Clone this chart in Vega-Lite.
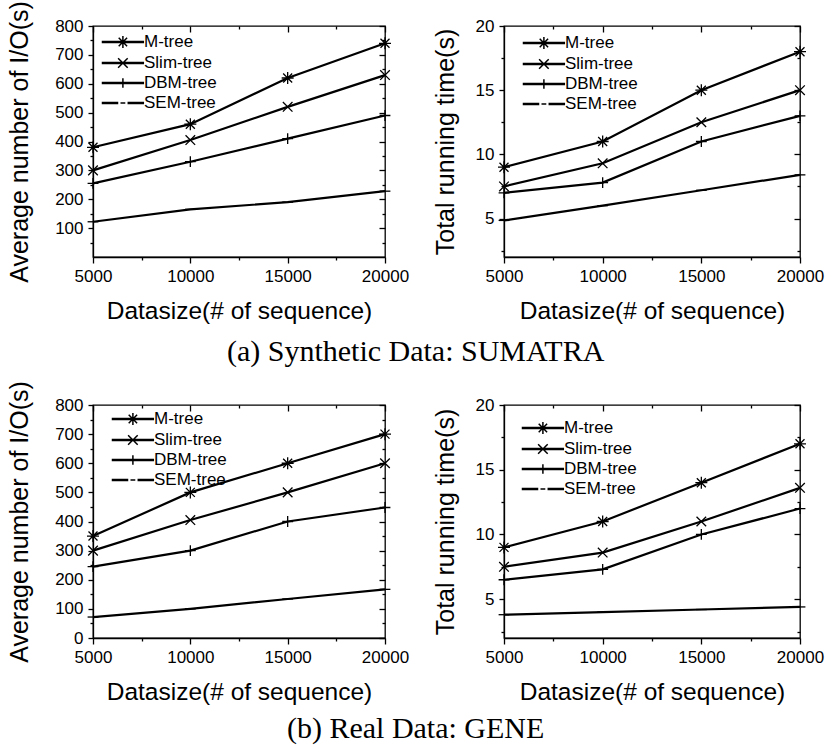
{
  "$schema": "https://vega.github.io/schema/vega-lite/v6.json",
  "background": "white",
  "padding": {"left": 6, "top": 0, "right": 0, "bottom": 0},
  "datasets": {
    "a_io": [
      {"series": "M-tree", "size": 5000, "value": 380}, {"series": "M-tree", "size": 10000, "value": 460}, {"series": "M-tree", "size": 15000, "value": 620}, {"series": "M-tree", "size": 20000, "value": 740},
      {"series": "Slim-tree", "size": 5000, "value": 300}, {"series": "Slim-tree", "size": 10000, "value": 405}, {"series": "Slim-tree", "size": 15000, "value": 520}, {"series": "Slim-tree", "size": 20000, "value": 630},
      {"series": "DBM-tree", "size": 5000, "value": 255}, {"series": "DBM-tree", "size": 10000, "value": 330}, {"series": "DBM-tree", "size": 15000, "value": 410}, {"series": "DBM-tree", "size": 20000, "value": 490},
      {"series": "SEM-tree", "size": 5000, "value": 122}, {"series": "SEM-tree", "size": 10000, "value": 165}, {"series": "SEM-tree", "size": 15000, "value": 190}, {"series": "SEM-tree", "size": 20000, "value": 228}
    ],
    "a_time": [
      {"series": "M-tree", "size": 5000, "value": 9}, {"series": "M-tree", "size": 10000, "value": 11}, {"series": "M-tree", "size": 15000, "value": 15}, {"series": "M-tree", "size": 20000, "value": 18},
      {"series": "Slim-tree", "size": 5000, "value": 7.5}, {"series": "Slim-tree", "size": 10000, "value": 9.3}, {"series": "Slim-tree", "size": 15000, "value": 12.5}, {"series": "Slim-tree", "size": 20000, "value": 15},
      {"series": "DBM-tree", "size": 5000, "value": 7}, {"series": "DBM-tree", "size": 10000, "value": 7.8}, {"series": "DBM-tree", "size": 15000, "value": 11}, {"series": "DBM-tree", "size": 20000, "value": 13},
      {"series": "SEM-tree", "size": 5000, "value": 4.85}, {"series": "SEM-tree", "size": 10000, "value": 6}, {"series": "SEM-tree", "size": 15000, "value": 7.2}, {"series": "SEM-tree", "size": 20000, "value": 8.4}
    ],
    "b_io": [
      {"series": "M-tree", "size": 5000, "value": 350}, {"series": "M-tree", "size": 10000, "value": 500}, {"series": "M-tree", "size": 15000, "value": 600}, {"series": "M-tree", "size": 20000, "value": 700},
      {"series": "Slim-tree", "size": 5000, "value": 300}, {"series": "Slim-tree", "size": 10000, "value": 405}, {"series": "Slim-tree", "size": 15000, "value": 500}, {"series": "Slim-tree", "size": 20000, "value": 600},
      {"series": "DBM-tree", "size": 5000, "value": 245}, {"series": "DBM-tree", "size": 10000, "value": 300}, {"series": "DBM-tree", "size": 15000, "value": 400}, {"series": "DBM-tree", "size": 20000, "value": 448},
      {"series": "SEM-tree", "size": 5000, "value": 72}, {"series": "SEM-tree", "size": 10000, "value": 100}, {"series": "SEM-tree", "size": 15000, "value": 134}, {"series": "SEM-tree", "size": 20000, "value": 167}
    ],
    "b_time": [
      {"series": "M-tree", "size": 5000, "value": 9}, {"series": "M-tree", "size": 10000, "value": 11}, {"series": "M-tree", "size": 15000, "value": 14}, {"series": "M-tree", "size": 20000, "value": 17},
      {"series": "Slim-tree", "size": 5000, "value": 7.5}, {"series": "Slim-tree", "size": 10000, "value": 8.6}, {"series": "Slim-tree", "size": 15000, "value": 11}, {"series": "Slim-tree", "size": 20000, "value": 13.6},
      {"series": "DBM-tree", "size": 5000, "value": 6.5}, {"series": "DBM-tree", "size": 10000, "value": 7.3}, {"series": "DBM-tree", "size": 15000, "value": 10}, {"series": "DBM-tree", "size": 20000, "value": 12},
      {"series": "SEM-tree", "size": 5000, "value": 3.8}, {"series": "SEM-tree", "size": 10000, "value": 4.0}, {"series": "SEM-tree", "size": 15000, "value": 4.2}, {"series": "SEM-tree", "size": 20000, "value": 4.4}
    ]
  },
  "config": {
    "font": "Liberation Sans",
    "view": {"stroke": "black", "strokeWidth": 1.3},
    "axis": {"grid": false, "domainColor": "black", "domainWidth": 1.3, "tickColor": "black", "tickWidth": 1.3, "labelColor": "black", "titleColor": "black", "labelFont": "Liberation Sans", "titleFont": "Liberation Sans", "labelFontSize": 17, "titleFontSize": 25, "titleFontWeight": "normal"},
    "legend": {"labelFont": "Liberation Sans", "labelColor": "black", "labelFontSize": 17},
    "title": {"font": "Liberation Serif", "fontSize": 30, "fontWeight": "normal", "color": "black"}
  },
  "spacing": 12,
  "vconcat": [
    {
      "title": {"text": "(a) Synthetic Data: SUMATRA", "orient": "bottom", "anchor": "middle", "offset": 14},
      "spacing": 22,
      "hconcat": [
        {
          "width": 292, "height": 231,
          "data": {"name": "a_io"},
          "layer": [
            {"mark": {"type": "line", "color": "black", "strokeWidth": 2.2},
             "encoding": {
               "x": {"field": "size", "type": "quantitative", "scale": {"domain": [5000, 20000], "nice": false, "zero": false},
                     "axis": {"orient": "bottom", "values": [5000, 10000, 15000, 20000], "format": "d", "title": "Datasize(# of sequence)", "titleFontSize": 24.5, "tickSize": 6, "labelPadding": 5, "titlePadding": 15, "labelFlush": false, "labelOverlap": false}},
               "y": {"field": "value", "type": "quantitative", "scale": {"domain": [0, 800], "nice": false, "zero": false},
                     "axis": {"orient": "left", "values": [100, 200, 300, 400, 500, 600, 700, 800], "title": "Average number of I/O(s)", "tickSize": 5, "labelPadding": 5, "titlePadding": 22, "labelOverlap": false}},
               "detail": {"field": "series"}}},
            {"mark": {"type": "point", "filled": false, "color": "black", "strokeWidth": 1.3, "size": 144, "opacity": 1},
             "encoding": {
               "x": {"field": "size", "type": "quantitative", "scale": {"domain": [5000, 20000], "nice": false, "zero": false},
                     "axis": {"orient": "bottom", "values": [7500, 12500, 17500], "tickSize": 3, "labels": false, "domain": false, "title": null}},
               "y": {"field": "value", "type": "quantitative", "scale": {"domain": [0, 800], "nice": false, "zero": false},
                     "axis": {"orient": "left", "values": [50, 150, 250, 350, 450, 550, 650, 750], "tickSize": 3, "labels": false, "domain": false, "title": null}},
               "shape": {"field": "series", "type": "nominal", "sort": null, "legend": null,
                         "scale": {"domain": ["M-tree", "Slim-tree", "DBM-tree", "SEM-tree"], "range": ["M0,-1V1M-0.75,-0.75L0.75,0.75M-0.75,0.75L0.75,-0.75M-1,0H1", "M-0.8,-0.8L0.8,0.8M-0.8,0.8L0.8,-0.8", "M-0.9,0H0.9M0,-0.9V0.9", "M-0.9,0H0.9"]}}}},
            {"mark": {"type": "point", "opacity": 0},
             "encoding": {
               "x": {"field": "size", "type": "quantitative", "scale": {"domain": [5000, 20000], "nice": false, "zero": false},
                     "axis": {"orient": "top", "values": [5000, 10000, 15000, 20000], "tickSize": -6, "labels": false, "domain": false, "title": null}},
               "y": {"field": "value", "type": "quantitative", "scale": {"domain": [0, 800], "nice": false, "zero": false},
                     "axis": {"orient": "right", "values": [100, 200, 300, 400, 500, 600, 700, 800], "tickSize": -6, "labels": false, "domain": false, "title": null}}}},
            {"mark": {"type": "point", "opacity": 0},
             "encoding": {
               "x": {"field": "size", "type": "quantitative", "scale": {"domain": [5000, 20000], "nice": false, "zero": false},
                     "axis": {"orient": "top", "values": [7500, 12500, 17500], "tickSize": -3, "labels": false, "domain": false, "title": null}},
               "y": {"field": "value", "type": "quantitative", "scale": {"domain": [0, 800], "nice": false, "zero": false},
                     "axis": {"orient": "right", "values": [50, 150, 250, 350, 450, 550, 650, 750], "tickSize": -3, "labels": false, "domain": false, "title": null}}}},
            {"mark": {"type": "point", "opacity": 0, "filled": false, "color": "black", "strokeWidth": 1.5},
             "encoding": {
               "x": {"field": "size", "type": "quantitative", "scale": {"domain": [5000, 20000], "nice": false, "zero": false}, "axis": null},
               "y": {"field": "value", "type": "quantitative", "scale": {"domain": [0, 800], "nice": false, "zero": false}, "axis": null},
               "shape": {"field": "series", "type": "nominal", "sort": null,
                         "scale": {"domain": ["M-tree", "Slim-tree", "DBM-tree", "SEM-tree"], "range": ["M-1,-0.08H5.8V0.08H-1Z M2.4,-1V1 M1.7,-0.7L3.1,0.7 M1.7,0.7L3.1,-0.7", "M-1,-0.08H5.8V0.08H-1Z M1.6,-0.8L3.2,0.8 M1.6,0.8L3.2,-0.8", "M-1,-0.08H5.8V0.08H-1Z M2.4,-0.8V0.8", "M-1,-0.08H1.5V0.08H-1Z M2.0,0H2.8 M3.3,-0.08H5.8V0.08H3.3Z"]},
                         "legend": {"orient": "none", "legendX": 7, "legendY": 7.5, "title": null, "padding": 0, "symbolSize": 144, "labelOffset": 27, "rowPadding": 2, "symbolStrokeColor": "black", "symbolStrokeWidth": 1.5, "symbolOpacity": 1}}}}
          ],
          "resolve": {"axis": {"x": "independent", "y": "independent"}, "scale": {"shape": "independent"}}
        },
        {
          "width": 296, "height": 231,
          "data": {"name": "a_time"},
          "layer": [
            {"mark": {"type": "line", "color": "black", "strokeWidth": 2.2},
             "encoding": {
               "x": {"field": "size", "type": "quantitative", "scale": {"domain": [5000, 20000], "nice": false, "zero": false},
                     "axis": {"orient": "bottom", "values": [5000, 10000, 15000, 20000], "format": "d", "title": "Datasize(# of sequence)", "titleFontSize": 24.5, "tickSize": 6, "labelPadding": 5, "titlePadding": 15, "labelFlush": false, "labelOverlap": false}},
               "y": {"field": "value", "type": "quantitative", "scale": {"domain": [2, 20], "nice": false, "zero": false},
                     "axis": {"orient": "left", "values": [5, 10, 15, 20], "title": "Total running time(s)", "tickSize": 5, "labelPadding": 5, "titlePadding": 17, "labelOverlap": false}},
               "detail": {"field": "series"}}},
            {"mark": {"type": "point", "filled": false, "color": "black", "strokeWidth": 1.3, "size": 144, "opacity": 1},
             "encoding": {
               "x": {"field": "size", "type": "quantitative", "scale": {"domain": [5000, 20000], "nice": false, "zero": false},
                     "axis": {"orient": "bottom", "values": [7500, 12500, 17500], "tickSize": 3, "labels": false, "domain": false, "title": null}},
               "y": {"field": "value", "type": "quantitative", "scale": {"domain": [2, 20], "nice": false, "zero": false},
                     "axis": {"orient": "left", "values": [2.5, 7.5, 12.5, 17.5], "tickSize": 3, "labels": false, "domain": false, "title": null}},
               "shape": {"field": "series", "type": "nominal", "sort": null, "legend": null,
                         "scale": {"domain": ["M-tree", "Slim-tree", "DBM-tree", "SEM-tree"], "range": ["M0,-1V1M-0.75,-0.75L0.75,0.75M-0.75,0.75L0.75,-0.75M-1,0H1", "M-0.8,-0.8L0.8,0.8M-0.8,0.8L0.8,-0.8", "M-0.9,0H0.9M0,-0.9V0.9", "M-0.9,0H0.9"]}}}},
            {"mark": {"type": "point", "opacity": 0},
             "encoding": {
               "x": {"field": "size", "type": "quantitative", "scale": {"domain": [5000, 20000], "nice": false, "zero": false},
                     "axis": {"orient": "top", "values": [5000, 10000, 15000, 20000], "tickSize": -6, "labels": false, "domain": false, "title": null}},
               "y": {"field": "value", "type": "quantitative", "scale": {"domain": [2, 20], "nice": false, "zero": false},
                     "axis": {"orient": "right", "values": [5, 10, 15, 20], "tickSize": -6, "labels": false, "domain": false, "title": null}}}},
            {"mark": {"type": "point", "opacity": 0},
             "encoding": {
               "x": {"field": "size", "type": "quantitative", "scale": {"domain": [5000, 20000], "nice": false, "zero": false},
                     "axis": {"orient": "top", "values": [7500, 12500, 17500], "tickSize": -3, "labels": false, "domain": false, "title": null}},
               "y": {"field": "value", "type": "quantitative", "scale": {"domain": [2, 20], "nice": false, "zero": false},
                     "axis": {"orient": "right", "values": [2.5, 7.5, 12.5, 17.5], "tickSize": -3, "labels": false, "domain": false, "title": null}}}},
            {"mark": {"type": "point", "opacity": 0, "filled": false, "color": "black", "strokeWidth": 1.5},
             "encoding": {
               "x": {"field": "size", "type": "quantitative", "scale": {"domain": [5000, 20000], "nice": false, "zero": false}, "axis": null},
               "y": {"field": "value", "type": "quantitative", "scale": {"domain": [2, 20], "nice": false, "zero": false}, "axis": null},
               "shape": {"field": "series", "type": "nominal", "sort": null,
                         "scale": {"domain": ["M-tree", "Slim-tree", "DBM-tree", "SEM-tree"], "range": ["M-1,-0.08H5.8V0.08H-1Z M2.4,-1V1 M1.7,-0.7L3.1,0.7 M1.7,0.7L3.1,-0.7", "M-1,-0.08H5.8V0.08H-1Z M1.6,-0.8L3.2,0.8 M1.6,0.8L3.2,-0.8", "M-1,-0.08H5.8V0.08H-1Z M2.4,-0.8V0.8", "M-1,-0.08H1.5V0.08H-1Z M2.0,0H2.8 M3.3,-0.08H5.8V0.08H3.3Z"]},
                         "legend": {"orient": "none", "legendX": 17, "legendY": 8.5, "title": null, "padding": 0, "symbolSize": 144, "labelOffset": 27, "rowPadding": 2, "symbolStrokeColor": "black", "symbolStrokeWidth": 1.5, "symbolOpacity": 1}}}}
          ],
          "resolve": {"axis": {"x": "independent", "y": "independent"}, "scale": {"shape": "independent"}}
        }
      ]
    },
    {
      "title": {"text": "(b) Real Data: GENE", "orient": "bottom", "anchor": "middle", "offset": 10},
      "spacing": 22,
      "hconcat": [
        {
          "width": 292, "height": 233,
          "data": {"name": "b_io"},
          "layer": [
            {"mark": {"type": "line", "color": "black", "strokeWidth": 2.2},
             "encoding": {
               "x": {"field": "size", "type": "quantitative", "scale": {"domain": [5000, 20000], "nice": false, "zero": false},
                     "axis": {"orient": "bottom", "values": [5000, 10000, 15000, 20000], "format": "d", "title": "Datasize(# of sequence)", "titleFontSize": 24.5, "tickSize": 6, "labelPadding": 5, "titlePadding": 15, "labelFlush": false, "labelOverlap": false}},
               "y": {"field": "value", "type": "quantitative", "scale": {"domain": [0, 800], "nice": false, "zero": false},
                     "axis": {"orient": "left", "values": [0, 100, 200, 300, 400, 500, 600, 700, 800], "title": "Average number of I/O(s)", "tickSize": 5, "labelPadding": 5, "titlePadding": 22, "labelOverlap": false}},
               "detail": {"field": "series"}}},
            {"mark": {"type": "point", "filled": false, "color": "black", "strokeWidth": 1.3, "size": 144, "opacity": 1},
             "encoding": {
               "x": {"field": "size", "type": "quantitative", "scale": {"domain": [5000, 20000], "nice": false, "zero": false},
                     "axis": {"orient": "bottom", "values": [7500, 12500, 17500], "tickSize": 3, "labels": false, "domain": false, "title": null}},
               "y": {"field": "value", "type": "quantitative", "scale": {"domain": [0, 800], "nice": false, "zero": false},
                     "axis": {"orient": "left", "values": [50, 150, 250, 350, 450, 550, 650, 750], "tickSize": 3, "labels": false, "domain": false, "title": null}},
               "shape": {"field": "series", "type": "nominal", "sort": null, "legend": null,
                         "scale": {"domain": ["M-tree", "Slim-tree", "DBM-tree", "SEM-tree"], "range": ["M0,-1V1M-0.75,-0.75L0.75,0.75M-0.75,0.75L0.75,-0.75M-1,0H1", "M-0.8,-0.8L0.8,0.8M-0.8,0.8L0.8,-0.8", "M-0.9,0H0.9M0,-0.9V0.9", "M-0.9,0H0.9"]}}}},
            {"mark": {"type": "point", "opacity": 0},
             "encoding": {
               "x": {"field": "size", "type": "quantitative", "scale": {"domain": [5000, 20000], "nice": false, "zero": false},
                     "axis": {"orient": "top", "values": [5000, 10000, 15000, 20000], "tickSize": -6, "labels": false, "domain": false, "title": null}},
               "y": {"field": "value", "type": "quantitative", "scale": {"domain": [0, 800], "nice": false, "zero": false},
                     "axis": {"orient": "right", "values": [0, 100, 200, 300, 400, 500, 600, 700, 800], "tickSize": -6, "labels": false, "domain": false, "title": null}}}},
            {"mark": {"type": "point", "opacity": 0},
             "encoding": {
               "x": {"field": "size", "type": "quantitative", "scale": {"domain": [5000, 20000], "nice": false, "zero": false},
                     "axis": {"orient": "top", "values": [7500, 12500, 17500], "tickSize": -3, "labels": false, "domain": false, "title": null}},
               "y": {"field": "value", "type": "quantitative", "scale": {"domain": [0, 800], "nice": false, "zero": false},
                     "axis": {"orient": "right", "values": [50, 150, 250, 350, 450, 550, 650, 750], "tickSize": -3, "labels": false, "domain": false, "title": null}}}},
            {"mark": {"type": "point", "opacity": 0, "filled": false, "color": "black", "strokeWidth": 1.5},
             "encoding": {
               "x": {"field": "size", "type": "quantitative", "scale": {"domain": [5000, 20000], "nice": false, "zero": false}, "axis": null},
               "y": {"field": "value", "type": "quantitative", "scale": {"domain": [0, 800], "nice": false, "zero": false}, "axis": null},
               "shape": {"field": "series", "type": "nominal", "sort": null,
                         "scale": {"domain": ["M-tree", "Slim-tree", "DBM-tree", "SEM-tree"], "range": ["M-1,-0.08H5.8V0.08H-1Z M2.4,-1V1 M1.7,-0.7L3.1,0.7 M1.7,0.7L3.1,-0.7", "M-1,-0.08H5.8V0.08H-1Z M1.6,-0.8L3.2,0.8 M1.6,0.8L3.2,-0.8", "M-1,-0.08H5.8V0.08H-1Z M2.4,-0.8V0.8", "M-1,-0.08H1.5V0.08H-1Z M2.0,0H2.8 M3.3,-0.08H5.8V0.08H3.3Z"]},
                         "legend": {"orient": "none", "legendX": 17, "legendY": 5.5, "title": null, "padding": 0, "symbolSize": 144, "labelOffset": 27, "rowPadding": 2, "symbolStrokeColor": "black", "symbolStrokeWidth": 1.5, "symbolOpacity": 1}}}}
          ],
          "resolve": {"axis": {"x": "independent", "y": "independent"}, "scale": {"shape": "independent"}}
        },
        {
          "width": 296, "height": 233,
          "data": {"name": "b_time"},
          "layer": [
            {"mark": {"type": "line", "color": "black", "strokeWidth": 2.2},
             "encoding": {
               "x": {"field": "size", "type": "quantitative", "scale": {"domain": [5000, 20000], "nice": false, "zero": false},
                     "axis": {"orient": "bottom", "values": [5000, 10000, 15000, 20000], "format": "d", "title": "Datasize(# of sequence)", "titleFontSize": 24.5, "tickSize": 6, "labelPadding": 5, "titlePadding": 15, "labelFlush": false, "labelOverlap": false}},
               "y": {"field": "value", "type": "quantitative", "scale": {"domain": [2, 20], "nice": false, "zero": false},
                     "axis": {"orient": "left", "values": [5, 10, 15, 20], "title": "Total running time(s)", "tickSize": 5, "labelPadding": 5, "titlePadding": 17, "labelOverlap": false}},
               "detail": {"field": "series"}}},
            {"mark": {"type": "point", "filled": false, "color": "black", "strokeWidth": 1.3, "size": 144, "opacity": 1},
             "encoding": {
               "x": {"field": "size", "type": "quantitative", "scale": {"domain": [5000, 20000], "nice": false, "zero": false},
                     "axis": {"orient": "bottom", "values": [7500, 12500, 17500], "tickSize": 3, "labels": false, "domain": false, "title": null}},
               "y": {"field": "value", "type": "quantitative", "scale": {"domain": [2, 20], "nice": false, "zero": false},
                     "axis": {"orient": "left", "values": [2.5, 7.5, 12.5, 17.5], "tickSize": 3, "labels": false, "domain": false, "title": null}},
               "shape": {"field": "series", "type": "nominal", "sort": null, "legend": null,
                         "scale": {"domain": ["M-tree", "Slim-tree", "DBM-tree", "SEM-tree"], "range": ["M0,-1V1M-0.75,-0.75L0.75,0.75M-0.75,0.75L0.75,-0.75M-1,0H1", "M-0.8,-0.8L0.8,0.8M-0.8,0.8L0.8,-0.8", "M-0.9,0H0.9M0,-0.9V0.9", "M-0.9,0H0.9"]}}}},
            {"mark": {"type": "point", "opacity": 0},
             "encoding": {
               "x": {"field": "size", "type": "quantitative", "scale": {"domain": [5000, 20000], "nice": false, "zero": false},
                     "axis": {"orient": "top", "values": [5000, 10000, 15000, 20000], "tickSize": -6, "labels": false, "domain": false, "title": null}},
               "y": {"field": "value", "type": "quantitative", "scale": {"domain": [2, 20], "nice": false, "zero": false},
                     "axis": {"orient": "right", "values": [5, 10, 15, 20], "tickSize": -6, "labels": false, "domain": false, "title": null}}}},
            {"mark": {"type": "point", "opacity": 0},
             "encoding": {
               "x": {"field": "size", "type": "quantitative", "scale": {"domain": [5000, 20000], "nice": false, "zero": false},
                     "axis": {"orient": "top", "values": [7500, 12500, 17500], "tickSize": -3, "labels": false, "domain": false, "title": null}},
               "y": {"field": "value", "type": "quantitative", "scale": {"domain": [2, 20], "nice": false, "zero": false},
                     "axis": {"orient": "right", "values": [2.5, 7.5, 12.5, 17.5], "tickSize": -3, "labels": false, "domain": false, "title": null}}}},
            {"mark": {"type": "point", "opacity": 0, "filled": false, "color": "black", "strokeWidth": 1.5},
             "encoding": {
               "x": {"field": "size", "type": "quantitative", "scale": {"domain": [5000, 20000], "nice": false, "zero": false}, "axis": null},
               "y": {"field": "value", "type": "quantitative", "scale": {"domain": [2, 20], "nice": false, "zero": false}, "axis": null},
               "shape": {"field": "series", "type": "nominal", "sort": null,
                         "scale": {"domain": ["M-tree", "Slim-tree", "DBM-tree", "SEM-tree"], "range": ["M-1,-0.08H5.8V0.08H-1Z M2.4,-1V1 M1.7,-0.7L3.1,0.7 M1.7,0.7L3.1,-0.7", "M-1,-0.08H5.8V0.08H-1Z M1.6,-0.8L3.2,0.8 M1.6,0.8L3.2,-0.8", "M-1,-0.08H5.8V0.08H-1Z M2.4,-0.8V0.8", "M-1,-0.08H1.5V0.08H-1Z M2.0,0H2.8 M3.3,-0.08H5.8V0.08H3.3Z"]},
                         "legend": {"orient": "none", "legendX": 16, "legendY": 14.5, "title": null, "padding": 0, "symbolSize": 144, "labelOffset": 27, "rowPadding": 2, "symbolStrokeColor": "black", "symbolStrokeWidth": 1.5, "symbolOpacity": 1}}}}
          ],
          "resolve": {"axis": {"x": "independent", "y": "independent"}, "scale": {"shape": "independent"}}
        }
      ]
    }
  ]
}
